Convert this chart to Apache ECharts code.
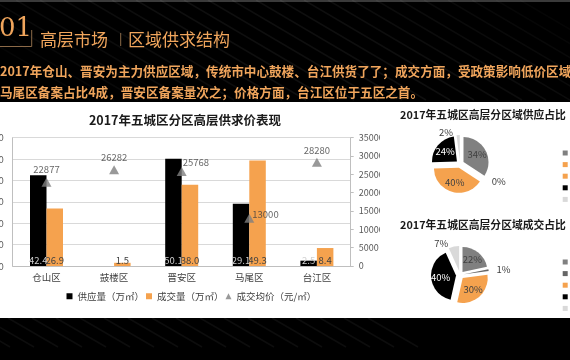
<!DOCTYPE html>
<html><head><meta charset="utf-8">
<script src="https://cdn.jsdelivr.net/npm/echarts@6/dist/echarts.min.js"></script>
<style>
html,body{margin:0;padding:0;background:#000;width:570px;height:360px;overflow:hidden}
.c{position:absolute;left:0;top:0;height:360px}
</style></head><body>
<div id="bg" class="c" style="width:570px"></div>
<div id="bar" class="c" style="width:380px"></div>
<script>
// ---- data ----
const categories = ['仓山区', '鼓楼区', '晋安区', '马尾区', '台江区'];
const supply = [42.4, 0, 50.1, 29.1, 2.5];          // 供应量（万㎡）
const deals = [26.9, 1.5, 38.0, 49.3, 8.4];         // 成交量（万㎡）
const price = [22877, 26282, 25768, 13000, 28280];  // 成交均价（元/㎡）
const leftTicks = [0, 10, 20, 30, 40, 50, 60];
const rightTicks = [0, 5000, 10000, 15000, 20000, 25000, 30000, 35000];
const seriesNames = ['供应量（万㎡）', '成交量（万㎡）', '成交均价（元/㎡）'];
const barTitle = '2017年五城区分区高层供求价表现';
const pieTitle1 = '2017年五城区高层分区域供应占比';
const pieTitle2 = '2017年五城区高层分区域成交占比';
const headLine1 = '2017年仓山、晋安为主力供应区域，传统市中心鼓楼、台江供货了了；成交方面，受政策影响低价区域';
const headLine2 = '马尾区备案占比4成，晋安区备案量次之；价格方面，台江区位于五区之首。';

// ---- styles ----
const FONT = '"Noto Sans CJK SC", "Noto Sans", sans-serif';
const ORANGE = '#F5A24E';
const HEAD = '#F0A55C';
const pieColors1 = ['#808080', ORANGE, ORANGE, '#000000', '#D9D9D9'];
const pieColors2 = ['#808080', '#666666', ORANGE, '#000000', '#D9D9D9'];
const pieLabelPos1 = ['inside', 'outside', 'inside', 'inside', 'outside'];
const pieLabelPos2 = ['inside', 'outside', 'inside', 'inside', 'outside'];
const pieLabelCol1 = ['#404040', '#404040', '#404040', '#ffffff', '#404040'];
const pieLabelCol2 = ['#404040', '#404040', '#404040', '#ffffff', '#404040'];
const priceLabel = [
  {position: 'top', distance: 3},
  {position: 'top', distance: 3},
  {position: 'right', offset: [-9, -9]},
  {position: 'right', offset: [-7, -4]},
  {position: 'top', distance: 3}
];

function txt(text, x, y, font, fill, align) {
  return {type: 'text', z: 5, style: {text, x, y, font, fill,
    align: align || 'left', verticalAlign: 'middle',
    textAlign: align || 'left', textVerticalAlign: 'middle'}};
}

// ---- background, header, pies ----
const stripes = [];
for (let i = 0; i < 26; i++) {
  const x0 = -80 + i * 24;
  const a = 0.025 + 0.035 * Math.sin(Math.PI * i / 25);
  stripes.push({type: 'line', z: 1, shape: {x1: x0, y1: 0, x2: x0 + 170, y2: 100},
    style: {stroke: 'rgba(255,255,255,' + a.toFixed(3) + ')', lineWidth: 1.5}});
}
for (let i = 0; i < 18; i++) {
  const x0 = -40 + i * 24;
  stripes.push({type: 'line', z: 1, shape: {x1: x0, y1: 318, x2: x0 + 50, y2: 347},
    style: {stroke: 'rgba(255,255,255,0.05)', lineWidth: 1.5}});
}

function pieSeries(values, colors, pos, lcol, cy) {
  return {
    type: 'pie', center: [460, cy], radius: 25, startAngle: 90, clockwise: true,
    selectedMode: 'multiple', selectedOffset: 4, percentPrecision: 0,
    avoidLabelOverlap: false, animation: false,
    emphasis: {disabled: true},
    label: {formatter: '{d}%', fontSize: 9.5, fontFamily: FONT},
    labelLine: {show: false, length: 3, length2: 0},
    data: categories.map((n, i) => ({
      name: n, value: values[i], selected: true,
      itemStyle: {color: colors[i]},
      label: {position: pos[i], color: lcol[i]}
    }))
  };
}

const bg = echarts.init(document.getElementById('bg'), null, {renderer: 'canvas'});
bg.setOption({
  animation: false,
  textStyle: {fontFamily: FONT},
  graphic: {elements: [
    {type: 'rect', z: 0, shape: {x: 0, y: 0, width: 570, height: 360}, style: {fill: '#000'}},
    {type: 'rect', z: 0, shape: {x: 0, y: 0, width: 570, height: 2}, style: {fill: '#3a3a3a'}},
    ...stripes,
    {type: 'rect', z: 2, shape: {x: 0, y: 102, width: 570, height: 216}, style: {fill: '#fff'}},
    txt('01', -1, 29, '26px "DejaVu Serif", serif', HEAD),
    {type: 'polyline', z: 5, shape: {points: [[0, 46.5], [31.7, 46.5], [31.7, 30]]},
      style: {stroke: '#8C6A48', lineWidth: 1, fill: null}},
    txt('高层市场', 40, 40, '17px ' + FONT, HEAD),
    {type: 'line', z: 5, shape: {x1: 120.7, y1: 33, x2: 120.7, y2: 46}, style: {stroke: '#8C6A48', lineWidth: 1}},
    txt('区域供求结构', 128, 40, '17px ' + FONT, HEAD),
    txt(headLine1, 0, 71, 'bold 12.6px ' + FONT, HEAD),
    txt(headLine2, 0, 92, 'bold 12.6px ' + FONT, HEAD),
    txt(pieTitle1, 483, 115, 'bold 10.8px ' + FONT, '#1a1a1a', 'center'),
    txt(pieTitle2, 483, 225, 'bold 10.8px ' + FONT, '#1a1a1a', 'center')
  ]},
  legend: [
    {orient: 'vertical', left: 562.7, top: 148.5, padding: 0, itemWidth: 5, itemHeight: 5, itemGap: 2.6,
      selectedMode: false, textStyle: {fontSize: 9, lineHeight: 9, color: '#595959'},
      data: categories.map((n, i) => ({name: n, icon: 'rect', itemStyle: {color: pieColors1[i]}}))},
    {orient: 'vertical', left: 562.7, top: 257.5, padding: 0, itemWidth: 5, itemHeight: 5, itemGap: 2.6,
      selectedMode: false, textStyle: {fontSize: 9, lineHeight: 9, color: '#595959'},
      data: categories.map((n, i) => ({name: n, icon: 'rect', itemStyle: {color: pieColors2[i]}}))}
  ],
  series: [
    pieSeries(supply, pieColors1, pieLabelPos1, pieLabelCol1, 164),
    pieSeries(deals, pieColors2, pieLabelPos2, pieLabelCol2, 275)
  ]
});

// ---- bar chart ----
const bar = echarts.init(document.getElementById('bar'), null, {renderer: 'canvas'});
bar.setOption({
  animation: false,
  textStyle: {fontFamily: FONT},
  graphic: {elements: [txt(barTitle, 185, 120, 'bold 12.5px ' + FONT, '#1a1a1a', 'center')]},
  grid: {left: 12.7, right: 29.3, top: 137.7, bottom: 94, containLabel: false, outerBoundsMode: 'none'},
  legend: {
    left: 66.5, top: 291.5, padding: 0, itemWidth: 6, itemHeight: 6, itemGap: 2, selectedMode: false,
    textStyle: {fontSize: 9.5, color: '#404040'},
    data: [{name: seriesNames[0], icon: 'rect'}, {name: seriesNames[1], icon: 'rect'},
           {name: seriesNames[2], icon: 'triangle'}]
  },
  xAxis: {
    type: 'category', data: categories,
    axisLine: {show: true, lineStyle: {color: '#BFBFBF'}},
    axisTick: {show: false},
    axisLabel: {fontSize: 9.5, color: '#404040', margin: 7}
  },
  yAxis: [
    {type: 'value', position: 'left', min: leftTicks[0], max: leftTicks[leftTicks.length - 1],
      interval: leftTicks[1] - leftTicks[0],
      axisLine: {show: true, lineStyle: {color: '#BFBFBF'}}, axisTick: {show: false},
      splitLine: {show: true, lineStyle: {color: '#D9D9D9'}},
      axisLabel: {fontSize: 9.5, color: '#595959', margin: 9, formatter: v => String(v)}},
    {type: 'value', position: 'right', min: rightTicks[0], max: rightTicks[rightTicks.length - 1],
      interval: rightTicks[1] - rightTicks[0],
      axisLine: {show: true, lineStyle: {color: '#BFBFBF'}},
      axisTick: {show: true, length: 3, lineStyle: {color: '#BFBFBF'}},
      splitLine: {show: false},
      axisLabel: {fontSize: 9, color: '#595959', margin: 8, formatter: v => String(v)}}
  ],
  series: [
    {name: seriesNames[0], type: 'bar', data: supply, barWidth: 16.5, barGap: '0%',
      itemStyle: {color: '#000'},
      label: {show: true, position: 'insideBottom', distance: 1, fontSize: 9.5, color: '#D0D0D0',
        formatter: p => p.value ? p.value.toFixed(1) : ''}},
    {name: seriesNames[1], type: 'bar', data: deals, barWidth: 16.5, barGap: '0%',
      itemStyle: {color: ORANGE},
      label: {show: true, position: 'insideBottom', distance: 1, fontSize: 9.5, color: '#404040',
        formatter: p => p.value.toFixed(1)}},
    {name: seriesNames[2], type: 'scatter', yAxisIndex: 1, symbol: 'triangle', symbolSize: [10, 9],
      itemStyle: {color: '#808080'}, z: 5,
      label: {show: true, fontSize: 9.5, color: '#404040'},
      data: price.map((v, i) => ({value: v, label: priceLabel[i]}))}
  ]
});
</script>
</body></html>
